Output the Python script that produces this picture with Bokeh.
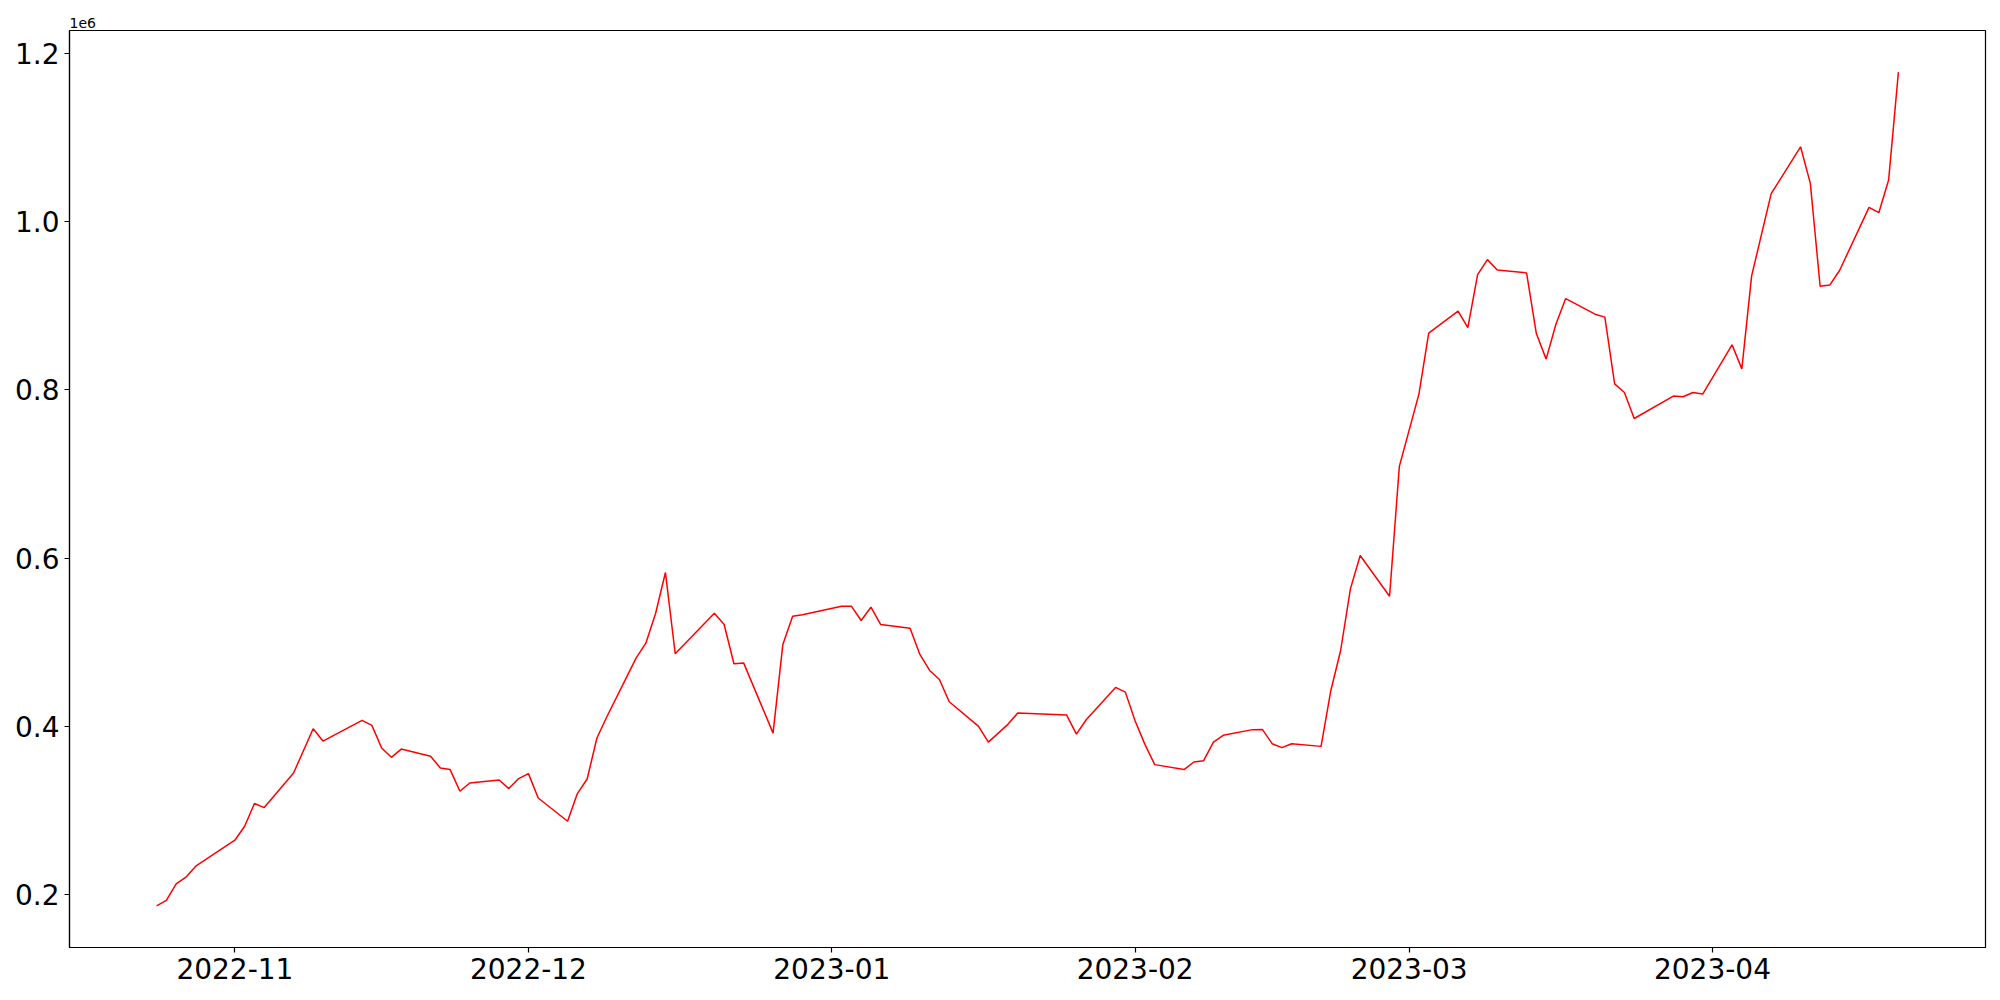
import pandas as pd
from bokeh.plotting import figure
from bokeh.models import Range1d, FixedTicker, DatetimeTickFormatter
from bokeh.embed import file_html
from bokeh.resources import INLINE

# ---- data ----
dates = [
    "2022-10-24", "2022-10-25", "2022-10-26", "2022-10-27", "2022-10-28",
    "2022-11-01", "2022-11-02", "2022-11-03", "2022-11-04", "2022-11-07",
    "2022-11-09", "2022-11-10", "2022-11-14", "2022-11-15", "2022-11-16",
    "2022-11-17", "2022-11-18", "2022-11-21", "2022-11-22", "2022-11-23",
    "2022-11-24", "2022-11-25", "2022-11-28", "2022-11-29", "2022-11-30",
    "2022-12-01", "2022-12-02", "2022-12-05", "2022-12-06", "2022-12-07",
    "2022-12-08", "2022-12-09", "2022-12-12", "2022-12-13", "2022-12-14",
    "2022-12-15", "2022-12-16", "2022-12-20", "2022-12-21", "2022-12-22",
    "2022-12-23", "2022-12-26", "2022-12-27", "2022-12-28", "2022-12-29",
    "2023-01-02", "2023-01-03", "2023-01-04", "2023-01-05", "2023-01-06",
    "2023-01-09", "2023-01-10", "2023-01-11", "2023-01-12", "2023-01-13",
    "2023-01-16", "2023-01-17", "2023-01-19", "2023-01-20", "2023-01-25",
    "2023-01-26", "2023-01-27", "2023-01-30", "2023-01-31", "2023-02-01",
    "2023-02-02", "2023-02-03", "2023-02-06", "2023-02-07", "2023-02-08",
    "2023-02-09", "2023-02-10", "2023-02-13", "2023-02-14", "2023-02-15",
    "2023-02-16", "2023-02-17", "2023-02-20", "2023-02-21", "2023-02-22",
    "2023-02-23", "2023-02-24", "2023-02-27", "2023-02-28", "2023-03-02",
    "2023-03-03", "2023-03-06", "2023-03-07", "2023-03-08", "2023-03-09",
    "2023-03-10", "2023-03-13", "2023-03-14", "2023-03-15", "2023-03-16",
    "2023-03-17", "2023-03-20", "2023-03-21", "2023-03-22", "2023-03-23",
    "2023-03-24", "2023-03-28", "2023-03-29", "2023-03-30", "2023-03-31",
    "2023-04-03", "2023-04-04", "2023-04-05", "2023-04-07", "2023-04-10",
    "2023-04-11", "2023-04-12", "2023-04-13", "2023-04-14", "2023-04-17",
    "2023-04-18", "2023-04-19", "2023-04-20",
]
values = [
    186500, 192900, 212600, 220500, 233600,
    264500, 281100, 308100, 303300, 344400,
    397100, 382400, 407000, 401100, 374100,
    363100, 372900, 364300, 350400, 348500,
    322700, 332500, 336100, 325900, 337800,
    343700, 314700, 287100, 320000, 337300,
    386000, 411000, 481000, 498800, 534400,
    582800, 486200, 534400, 521000, 474300,
    475100, 391900, 497300, 530900, 532500,
    542800, 542800, 525800, 541600, 521000,
    516600, 485400, 466400, 455700, 429200,
    399900, 381200, 402300, 415700, 413300,
    390700, 407800, 446200, 440600, 406200,
    378500, 354400, 348500, 357500, 359100,
    381200, 389200, 396000, 396300, 379300,
    374600, 379300, 376100, 442600, 490100,
    563400, 603000, 554600, 709000, 795000,
    867500, 893600, 874100, 937100, 954900,
    942600, 939100, 867000, 836600, 878100,
    908600, 890000, 886500, 807200, 796900,
    766000, 792600, 791800, 796900, 795000,
    853600, 825000, 935500, 1033300, 1089100,
    1045600, 923300, 924800, 942300, 1017100,
    1010700, 1049500, 1177800,
]
month_ticks = ["2022-11-01", "2022-12-01", "2023-01-01", "2023-02-01",
               "2023-03-01", "2023-04-01"]
y_ticks = [200000, 400000, 600000, 800000, 1000000, 1200000]
y_tick_labels = ["0.2", "0.4", "0.6", "0.8", "1.0", "1.2"]
offset_text = "1e6"

x = pd.to_datetime(dates)

def ms(ts):
    return pd.Timestamp(ts).value / 1e6

# matplotlib-like 5% margins
x0, x1 = ms(x.min()), ms(x.max())
dx = (x1 - x0) * 0.05
y0, y1 = min(values), max(values)
dy = (y1 - y0) * 0.05

p = figure(width=1992, height=992, x_axis_type="datetime",
           output_backend="svg", toolbar_location=None,
           x_range=Range1d(x0 - dx, x1 + dx),
           y_range=Range1d(y0 - dy, y1 + dy),
           min_border_left=69, min_border_right=7,
           min_border_top=30, min_border_bottom=45)

p.title.text = offset_text
p.title.align = "left"
p.title.text_font = "DejaVu Sans"
p.title.text_font_size = "14px"
p.title.text_font_style = "normal"
p.title.text_color = "black"
p.title.standoff = 5

p.line(x, values, line_color="red", line_width=1.5)

p.xgrid.visible = False
p.ygrid.visible = False
p.outline_line_color = "black"
p.outline_line_width = 1.2
p.outline_line_alpha = 1.0
p.background_fill_color = "white"
p.border_fill_color = "white"

p.xaxis.ticker = FixedTicker(ticks=[ms(t) for t in month_ticks])
p.xaxis.formatter = DatetimeTickFormatter(months="%Y-%m", days="%Y-%m",
                                          years="%Y-%m")
p.yaxis.ticker = FixedTicker(ticks=y_ticks)
p.yaxis.major_label_overrides = {t: l for t, l in zip(y_ticks, y_tick_labels)}

for ax in (p.xaxis, p.yaxis):
    ax.axis_line_color = "black"
    ax.axis_line_width = 1.2
    ax.major_tick_line_color = "black"
    ax.major_tick_line_width = 1.2
    ax.major_tick_out = 5
    ax.major_tick_in = 0
    ax.minor_tick_line_color = None
    ax.major_label_text_font = "DejaVu Sans"
    ax.major_label_text_font_size = "28px"
    ax.major_label_text_color = "black"
    ax.major_label_standoff = 5

open("out.html", "w").write(file_html(p, INLINE))
